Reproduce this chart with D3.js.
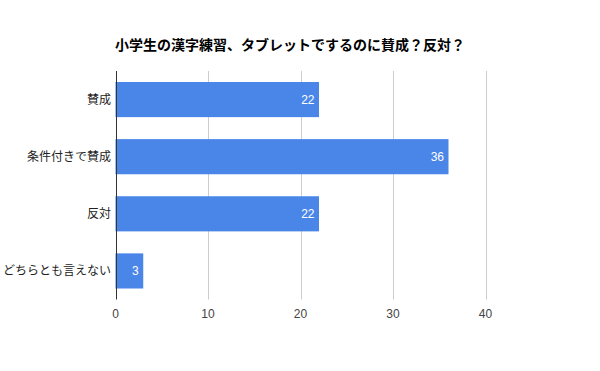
<!DOCTYPE html>
<html>
<head>
<meta charset="utf-8">
<script src="https://cdn.jsdelivr.net/npm/d3@7"></script>
<style>
  body { margin: 0; background: #fff; }
  text { font-family: "Liberation Sans", Arial, "Noto Sans CJK JP", sans-serif; }
</style>
</head>
<body>
<svg id="chart" width="600" height="371"></svg>
<script>
/** Chart data */
var title = "小学生の漢字練習、タブレットでするのに賛成？反対？";
var categories = ["賛成", "条件付きで賛成", "反対", "どちらとも言えない"];
var values = [22, 36, 22, 3];
var ticks = [0, 10, 20, 30, 40];

/** Plot area (window.top is reserved, so use other names) */
var plotLeft = 115.5, plotRight = 485.5, plotTop = 71, plotBottom = 299.5;

var svg = d3.select("#chart");

var x = d3.scaleLinear()
    .domain([0, 40])
    .range([plotLeft, plotRight]);

var y = d3.scaleBand()
    .domain(categories)
    .range([plotTop, plotBottom])
    .paddingInner(0.385)
    .paddingOuter(0.1925);

// title
svg.append("text")
    .attr("x", 115)
    .attr("y", 50)
    .attr("font-size", 14)
    .attr("font-weight", "bold")
    .attr("fill", "#000")
    .text(title);

// gridlines (skip zero, the axis line goes there)
svg.selectAll(".grid")
    .data(ticks.filter(function(d){ return d != 0; }))
    .enter().append("line")
    .attr("x1", function(d){ return Math.round(x(d)) + 0.5; })
    .attr("x2", function(d){ return Math.round(x(d)) + 0.5; })
    .attr("y1", plotTop)
    .attr("y2", plotBottom)
    .attr("stroke", "#cccccc")
    .attr("stroke-width", 1);

// bars
svg.selectAll(".bar")
    .data(values)
    .enter().append("rect")
    .attr("x", x(0))
    .attr("y", function(d, i){ return y(categories[i]); })
    .attr("width", function(d){ return x(d) - x(0); })
    .attr("height", y.bandwidth())
    .attr("fill", "#4a86e8");

// value labels inside bars
svg.selectAll(".val")
    .data(values)
    .enter().append("text")
    .attr("x", function(d){ return x(d) - 4.5; })
    .attr("y", function(d, i){ return y(categories[i]) + y.bandwidth() / 2; })
    .attr("dy", "0.35em")
    .attr("text-anchor", "end")
    .attr("font-size", 12)
    .attr("fill", "#ffffff")
    .text(function(d){ return d; });

// zero axis line
svg.append("line")
    .attr("x1", Math.round(x(0)) + 0.5)
    .attr("x2", Math.round(x(0)) + 0.5)
    .attr("y1", plotTop)
    .attr("y2", plotBottom)
    .attr("stroke", "#333333")
    .attr("stroke-width", 1);

// category labels
svg.selectAll(".cat")
    .data(categories)
    .enter().append("text")
    .attr("x", 111)
    .attr("y", function(d){ return y(d) + y.bandwidth() / 2; })
    .attr("dy", "0.35em")
    .attr("text-anchor", "end")
    .attr("font-size", 12)
    .attr("fill", "#222222")
    .text(function(d){ return d; });

// x tick labels
svg.selectAll(".tick")
    .data(ticks)
    .enter().append("text")
    .attr("x", function(d){ return x(d); })
    .attr("y", 314)
    .attr("dy", "0.35em")
    .attr("text-anchor", "middle")
    .attr("font-size", 12)
    .attr("fill", "#444444")
    .text(function(d){ return d; });
</script>
</body>
</html>
